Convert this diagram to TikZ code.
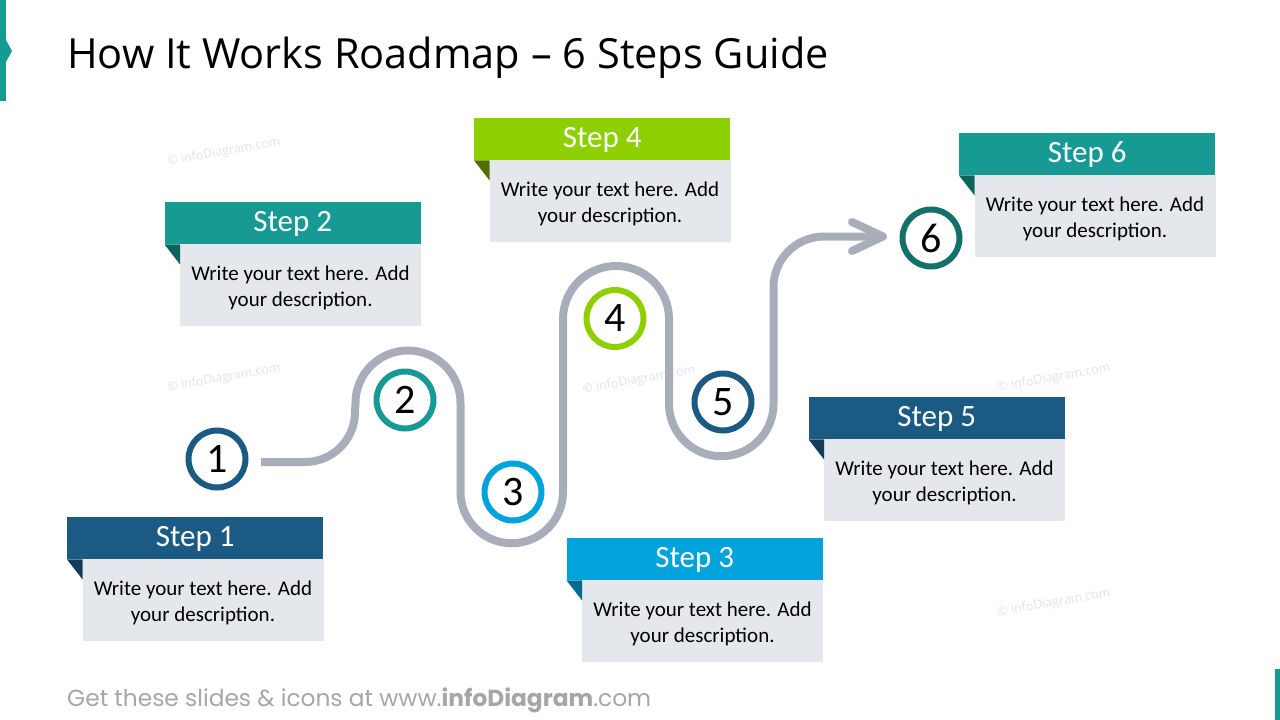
\documentclass[tikz,border=0pt]{standalone}
\usepackage{fontspec}
\setmainfont{Carlito}
\newfontfamily\titlefont{Open Sans}
\newfontfamily\footfont{Poppins}
\newfontfamily\wmfont{Open Sans}
\definecolor{cdblue}{HTML}{1B5A82}
\definecolor{cdbluef}{HTML}{123D5A}
\definecolor{cteal}{HTML}{169A93}
\definecolor{ctealf}{HTML}{0D625D}
\definecolor{ccyan}{HTML}{00A3DC}
\definecolor{ccyanf}{HTML}{006C94}
\definecolor{clime}{HTML}{8ECF00}
\definecolor{climef}{HTML}{4D7000}
\definecolor{cdteal}{HTML}{13706A}
\definecolor{cbody}{HTML}{E4E7EC}
\definecolor{cpath}{HTML}{A8ADB9}
\definecolor{cwm}{HTML}{DCE3EE}
\definecolor{cfoot}{HTML}{A6A6A6}
\tikzset{
  headbox/.style={anchor=north west, minimum width=256pt, text height=29pt, text depth=13pt, inner sep=0pt, text=white, font=\fontsize{31}{34}\selectfont},
  numcircle/.style={circle, fill=white, line width=6pt, minimum size=57pt, inner sep=0pt, font=\fontsize{42}{42}\selectfont},
  road/.style={draw=cpath, line width=8pt},
  wmark/.style={text=cwm, rotate=10, font=\wmfont\fontsize{12.5}{12.5}\selectfont},
}
\newcommand\stepcard[6]{%
  \node[headbox, fill=#4] (#1h) at (#2,#3) {#6};
  \fill[cbody] ($(#2,#3)+(15.5,42)$) rectangle ($(#2,#3)+(256.5,124)$);
  \node[anchor=center, inner sep=0pt, align=center, font=\fontsize{21}{26}\selectfont] (#1b) at ($(#2,#3)+(136,85.5)$) {Write your text here. Add\\your description.};
  \fill[#5] (#1h.south west) -- ++(15.5,0) -- ++(0,20) -- cycle;
}
\usetikzlibrary{calc}
\begin{document}
\begin{tikzpicture}[x=1pt,y=-1pt]
\useasboundingbox (0,0) rectangle (1280,720);
% accents
\fill[cteal] (0,0) rectangle (6,101);
\fill[cteal] (6,40) -- (12,51) -- (6,62) -- cycle;
\fill[cteal] (1275,669) rectangle (1280,720);
% title
\node[anchor=base west, inner sep=0pt, font=\titlefont\fontsize{41.5}{42}\selectfont] (title) at (67,68) {How It Works Roadmap – 6 Steps Guide};
% watermarks
\node[wmark] (wm1) at (224,152) {© infoDiagram.com};
\node[wmark] (wm2) at (224,378) {© infoDiagram.com};
\node[wmark] (wm3) at (639,380) {© infoDiagram.com};
\node[wmark] (wm4) at (1054,378) {© infoDiagram.com};
\node[wmark] (wm5) at (1054,603) {© infoDiagram.com};
% road
\coordinate (rs) at (261,462);
\coordinate (re) at (883,236.5);
\draw[road] (rs) -- (305,462) arc[start angle=90, end angle=0, radius=50]
  -- (355.5,403) arc[start angle=180, end angle=360, radius=52.5]
  -- (460.5,492) arc[start angle=180, end angle=0, radius=51.25]
  -- (563,319) arc[start angle=180, end angle=360, radius=53]
  -- (669,404) arc[start angle=180, end angle=0, radius=52.25]
  -- (773.5,287) arc[start angle=180, end angle=270, radius=50.5]
  -- (re);
\draw[road, line cap=round, line join=round] ($(re)+(-31,-14.5)$) -- (re) -- ($(re)+(-31,14.5)$);
% circles
\node[numcircle, draw=cdblue] (c1) at (217,459) {1};
\node[numcircle, draw=cteal] (c2) at (405,400) {2};
\node[numcircle, draw=ccyan] (c3) at (513,492) {3};
\node[numcircle, draw=clime] (c4) at (615,318.5) {4};
\node[numcircle, draw=cdblue] (c5) at (723,402) {5};
\node[numcircle, draw=cdteal] (c6) at (931,238) {6};
% step cards
\stepcard{s1}{67}{517}{cdblue}{cdbluef}{Step 1}
\stepcard{s2}{164.5}{202}{cteal}{ctealf}{Step 2}
\stepcard{s3}{566.5}{538}{ccyan}{ccyanf}{Step 3}
\stepcard{s4}{474}{118}{clime}{climef}{Step 4}
\stepcard{s5}{808.5}{397}{cdblue}{cdbluef}{Step 5}
\stepcard{s6}{959}{133}{cteal}{ctealf}{Step 6}
% footer
\node[anchor=base west, inner sep=0pt, text=cfoot, font=\footfont\fontsize{23.3}{23.3}\selectfont] (foot) at (67,706) {Get these slides \& icons at www.\textbf{infoDiagram}.com};
\end{tikzpicture}
\end{document}
